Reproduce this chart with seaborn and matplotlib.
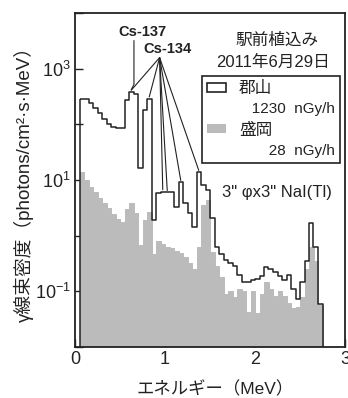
import numpy as np
import pandas as pd
import matplotlib
matplotlib.use('Agg')
import matplotlib.pyplot as plt
import seaborn as sns
from matplotlib.patches import Patch
from matplotlib.ticker import NullLocator

# ---- data ----
bin_edges = [round(0.05 + 0.05 * i, 2) for i in range(55)]   # MeV, 0.05 .. 2.75
koriyama = [288, 282, 245, 200, 158, 123, 100, 89, 85, 85,
            269, 380, 355, 16.2, 178, 288, 1.95, 5.9, 6.2, 6.0,
            6.2, 3.3, 9.1, 3.9, 2.6, 1.45, 13.8, 8.1, 6.6, 2.1,
            0.62, 0.47, 0.37, 0.32, 0.28, 0.20, 0.145, 0.15, 0.16, 0.165,
            0.185, 0.27, 0.25, 0.22, 0.185, 0.16, 0.20, 0.11, 0.072, 0.15,
            0.35, 1.7, 0.62, 0.06]
morioka = [13.8, 10.0, 7.4, 6.0, 4.8, 3.8, 3.2, 2.5, 2.0, 1.75,
           3.0, 3.9, 2.6, 0.69, 1.95, 2.7, 0.46, 0.79, 0.71, 0.63,
           0.60, 0.52, 0.48, 0.42, 0.32, 0.25, 0.63, 3.55, 4.4, 0.50,
           0.28, 0.18, 0.089, 0.10, 0.079, 0.11, 0.10, 0.042, 0.10, 0.040,
           0.089, 0.15, 0.11, 0.083, 0.10, 0.083, 0.063, 0.050, 0.052, 0.079,
           0.25, 0.63, 0.35, 0.056]
cs134_bins = [11, 15, 18, 19, 22, 26]   # peaks pointed at by Cs-134 lines
cs137_bin = 11
legend_names = ['郡山', '盛岡']
dose_rates = ['1230  nGy/h', '28  nGy/h']
x_ticks = [0, 1, 2, 3]
y_exps = [-2, -1, 0, 1, 2, 3, 4]

edges_arr = np.array(bin_edges)
centers = (edges_arr[:-1] + edges_arr[1:]) / 2
df = pd.DataFrame({'E': centers, 'kor': koriyama, 'mor': morioka})

sns.set_style('ticks')
plt.rcParams['font.family'] = ['Liberation Sans', 'Noto Sans CJK JP']
plt.rcParams['mathtext.default'] = 'regular'

INK = '#222222'
GRAY = '#bbbbbb'
Y_MIN, Y_MAX = 1e-2, 1e4

fig = plt.figure(figsize=(3.48, 3.98), dpi=100)
ax = fig.add_axes([75/348, 51/398, 270/348, 334/398])
ax.set_yscale('log')

sns.histplot(data=df, x='E', weights='mor', bins=bin_edges, element='bars',
             fill=True, color=GRAY, alpha=1, edgecolor=GRAY, linewidth=0.7,
             shrink=1, ax=ax)
sns.histplot(data=df, x='E', weights='kor', bins=bin_edges, element='step',
             fill=True, color=INK, facecolor='none', edgecolor=INK,
             linewidth=1.1, ax=ax)

ax.set_xlim(0, 3)
ax.set_ylim(Y_MIN, Y_MAX)
ax.set_xticks(x_ticks)
ax.set_xticklabels([str(t) for t in x_ticks])
ax.set_yticks([10.0**k for k in y_exps])
ax.set_yticklabels([r'$10^{%d}$' % k if k % 2 else '' for k in y_exps])
ax.yaxis.set_minor_locator(NullLocator())
ax.xaxis.set_minor_locator(NullLocator())
ax.tick_params(direction='in', length=6, width=1.0, labelsize=13, pad=3,
               colors=INK)
for s in ax.spines.values():
    s.set_visible(True)
    s.set_linewidth(1.3)
    s.set_color(INK)

ax.set_xlabel('エネルギー（MeV）', fontsize=12.5, color=INK)
ax.xaxis.set_label_coords(0.52, -0.125)
ax.xaxis.label.set_va('center')
ax.set_ylabel('γ線束密度（photons/cm²·s·MeV）', fontsize=13.5, color=INK)
ax.yaxis.set_label_coords(-0.19, 0.5)
ax.yaxis.label.set_va('center')

# annotations
ax.text(0.75, 4500, 'Cs-137', ha='center', va='center', fontsize=10.5,
        fontweight='bold', color=INK)
ax.text(1.03, 2250, 'Cs-134', ha='center', va='center', fontsize=10.5,
        fontweight='bold', color=INK)
apex = (0.94, 1580)
for b in cs134_bins:
    ax.annotate('', xy=(centers[b], koriyama[b] * 1.08), xytext=apex,
                arrowprops=dict(arrowstyle='-', color=INK, lw=0.8,
                                shrinkA=0, shrinkB=0))
ax.plot([0.655, 0.655, centers[cs137_bin]], [3200, 520, koriyama[cs137_bin] * 1.1],
        color=INK, lw=0.8)

ax.text(0.748, 0.919, '駅前植込み', transform=ax.transAxes, ha='center',
        va='center', fontsize=12, color=INK)
ax.text(0.733, 0.853, '2011年6月29日', transform=ax.transAxes, ha='center',
        va='center', fontsize=12, color=INK)
ax.text(0.544, 0.464, '3" φx3" NaI(Tl)', transform=ax.transAxes, ha='left',
        va='center', fontsize=12, color=INK)

handles = [Patch(facecolor='white', edgecolor=INK, linewidth=1.2),
           Patch(facecolor='none', edgecolor='none'),
           Patch(facecolor=GRAY, edgecolor='none'),
           Patch(facecolor='none', edgecolor='none')]
labels = [legend_names[0], '   ' + dose_rates[0],
          legend_names[1], '       ' + dose_rates[1]]
leg = ax.legend(handles, labels, loc='upper right',
                bbox_to_anchor=(0.981, 0.811), borderaxespad=0,
                fancybox=False, edgecolor=INK, framealpha=1, fontsize=12,
                handlelength=1.1, handleheight=0.45, handletextpad=0.8,
                borderpad=0.3, labelspacing=0.37)
leg.get_frame().set_linewidth(1.2)
for i, t in enumerate(leg.get_texts()):
    t.set_color(INK)
    if i % 2 == 1:
        t.set_fontsize(11)

fig.savefig('out.png', dpi=100)
